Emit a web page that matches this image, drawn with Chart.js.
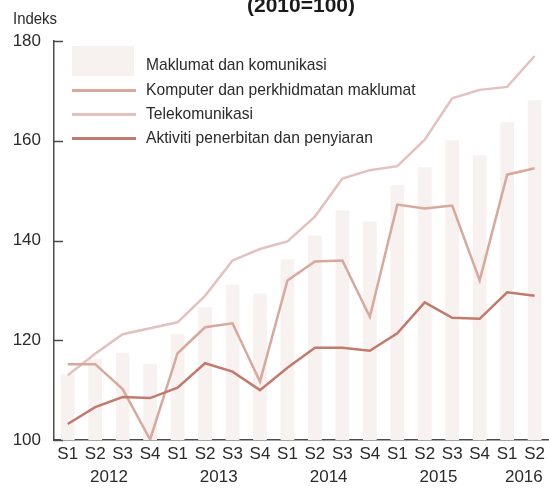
<!DOCTYPE html>
<html>
<head>
<meta charset="utf-8">
<script src="https://cdn.jsdelivr.net/npm/chart.js@4/dist/chart.umd.min.js"></script>
<style>
  html, body { margin: 0; padding: 0; background: #fff; }
  #wrap { position: relative; width: 549px; height: 488px; overflow: hidden; font-family: "Liberation Sans", Arial, sans-serif; color: #2b2b2b; }
  canvas { position: absolute; left: 0; top: 0; }
  .t { position: absolute; white-space: nowrap; font-size: 17px; line-height: 20px; transform-origin: 0 50%; }
  .lg { transform: scaleX(0.92); }
  #title { left: 247px; top: -5px; font-weight: bold; font-size: 21px; line-height: 20px; color: #1a1a1a; }
  .sw { position: absolute; }
</style>
</head>
<body>
<div id="wrap">
  <canvas id="c" width="549" height="488"></canvas>
  <div id="title" class="t">(2010=100)</div>
  <div class="t" style="left:13px; top:9px; transform: scaleX(0.88);">Indeks</div>
  <div class="sw" id="sw0" style="left:72px; top:46px; width:62px; height:30px;"></div>
  <div class="sw" id="sw1" style="left:72px; top:89px; width:64px; height:3px;"></div>
  <div class="sw" id="sw2" style="left:72px; top:113px; width:64px; height:3px;"></div>
  <div class="sw" id="sw3" style="left:72px; top:137px; width:64px; height:3px;"></div>
  <div class="t lg" style="left:146px; top:55px;">Maklumat dan komunikasi</div>
  <div class="t lg" style="left:146px; top:80px;">Komputer dan perkhidmatan maklumat</div>
  <div class="t lg" style="left:146px; top:104px;">Telekomunikasi</div>
  <div class="t lg" style="left:146px; top:128px;">Aktiviti penerbitan dan penyiaran</div>
</div>
<script>
// ---- Data ----
const quarters = ['S1','S2','S3','S4','S1','S2','S3','S4','S1','S2','S3','S4','S1','S2','S3','S4','S1','S2'];
const years = ['2012','2012','2012','2012','2013','2013','2013','2013','2014','2014','2014','2014','2015','2015','2015','2015','2016','2016'];
const maklumat = [113.3,116.3,117.5,115.3,121.2,126.6,131.2,129.3,136.2,141.0,146.0,143.8,151.1,154.7,160.1,157.1,163.7,168.1];
const komputer = [115.2,115.2,110.2,100.1,117.4,122.6,123.4,111.7,132.0,135.8,136.0,124.7,147.2,146.4,147.0,132.0,153.2,154.5];
const telekom  = [113.0,117.3,121.2,122.4,123.6,128.9,136.0,138.3,139.8,144.8,152.4,154.1,154.9,160.2,168.5,170.2,170.8,177.0];
const aktiviti = [103.2,106.6,108.6,108.4,110.5,115.4,113.7,110.0,114.5,118.5,118.5,117.9,121.4,127.6,124.5,124.3,129.6,128.9];
const yTicks = [100,120,140,160,180];

const colBar = '#f7f1f0', colKom = '#d7a99c', colTel = '#e4c0bf', colAkt = '#c27a6c';
document.getElementById('sw0').style.background = colBar;
document.getElementById('sw1').style.background = colKom;
document.getElementById('sw2').style.background = colTel;
document.getElementById('sw3').style.background = colAkt;

const FONT = "'Liberation Sans', Arial, sans-serif";
const axisColor = '#4a4a4a';

const extras = {
  id: 'extras',
  afterDraw(chart) {
    const ctx = chart.ctx, ca = chart.chartArea;
    const y = chart.scales.y, x = chart.scales.x;
    ctx.save();
    ctx.strokeStyle = axisColor; ctx.lineWidth = 1.5;
    yTicks.forEach(v => {
      const py = Math.round(y.getPixelForValue(v)) + 0.5;
      ctx.beginPath(); ctx.moveTo(ca.left, py); ctx.lineTo(ca.left + 9, py); ctx.stroke();
    });
    // year labels
    ctx.fillStyle = '#2b2b2b';
    ctx.font = '17px ' + FONT;
    ctx.textAlign = 'center'; ctx.textBaseline = 'middle';
    const uniq = [...new Set(years)];
    uniq.forEach(yr => {
      const idx = years.map((v,i)=>v===yr?i:-1).filter(i=>i>=0);
      let px;
      if (idx.length >= 3) px = (x.getPixelForValue(idx[1]) + x.getPixelForValue(idx[2])) / 2;
      else px = (x.getPixelForValue(idx[0]) + x.getPixelForValue(idx[idx.length-1])) / 2 + 3;
      ctx.fillText(yr, px, 477);
    });
    ctx.restore();
  }
};

new Chart(document.getElementById('c'), {
  type: 'bar',
  data: {
    labels: quarters,
    datasets: [
      { type: 'line', label: 'Aktiviti penerbitan dan penyiaran', data: aktiviti, borderColor: colAkt, borderWidth: 2.5, pointRadius: 0, tension: 0, order: 1 },
      { type: 'line', label: 'Komputer dan perkhidmatan maklumat', data: komputer, borderColor: colKom, borderWidth: 2.5, pointRadius: 0, tension: 0, order: 2 },
      { type: 'line', label: 'Telekomunikasi', data: telekom, borderColor: colTel, borderWidth: 2.5, pointRadius: 0, tension: 0, order: 3 },
      { type: 'bar', label: 'Maklumat dan komunikasi', data: maklumat, backgroundColor: colBar, barPercentage: 0.5, categoryPercentage: 1.0, order: 4 }
    ]
  },
  options: {
    responsive: false,
    animation: false,
    layout: { padding: { top: 41, right: 0, left: 0, bottom: 0 } },
    plugins: { legend: { display: false }, tooltip: { enabled: false }, title: { display: false } },
    scales: {
      x: {
        offset: true,
        grid: { display: false, drawTicks: false },
        border: { display: true, color: axisColor, width: 1.5 },
        ticks: { color: '#2b2b2b', font: { family: FONT, size: 17 }, padding: 4, maxRotation: 0, autoSkip: false },
        afterFit(s) { s.height = 48; }
      },
      y: {
        min: 100, max: 180,
        afterBuildTicks(s) { s.ticks = yTicks.map(v => ({ value: v })); },
        grid: { display: false, drawTicks: false },
        border: { display: true, color: axisColor, width: 1.5 },
        ticks: { color: '#2b2b2b', font: { family: FONT, size: 17 }, padding: 13 },
        afterFit(s) { s.width = 54; }
      }
    }
  },
  plugins: [extras]
});
</script>
</body>
</html>
